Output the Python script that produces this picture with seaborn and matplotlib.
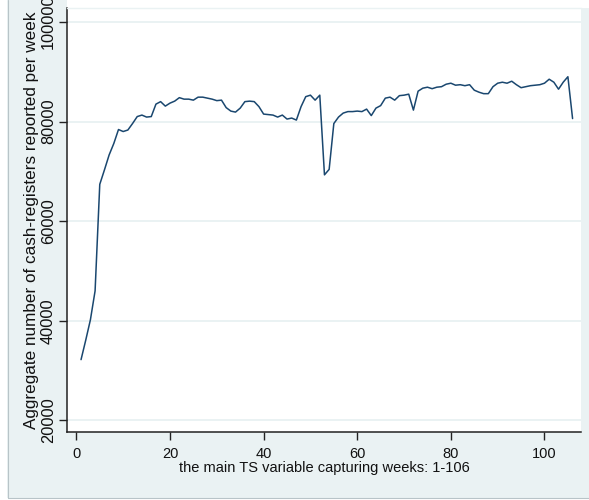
import matplotlib
matplotlib.use("Agg")
import matplotlib.pyplot as plt
import matplotlib.patches as mpatches
import matplotlib.lines as mlines
import seaborn as sns
import pandas as pd

# weekly aggregate of cash registers reporting
weeks = list(range(1, 107))
registers = [
    32200, 36100, 40200, 46000, 67400, 70300, 73300, 75600, 78400, 78000,
    78300, 79600, 81000, 81300, 80900, 81000, 83500, 84000, 83100, 83700,
    84100, 84800, 84500, 84500, 84300, 84900, 84900, 84700, 84500, 84200,
    84300, 82800, 82100, 81900, 82700, 84000, 84100, 84000, 83000, 81500,
    81400, 81300, 80900, 81300, 80500, 80700, 80300, 83000, 85000, 85300,
    84300, 85300, 69300, 70400, 79600, 80900, 81700, 82000, 82000, 82100,
    82000, 82500, 81200, 82700, 83200, 84700, 84900, 84300, 85200, 85300,
    85500, 82300, 86100, 86700, 86900, 86600, 86900, 87000, 87500, 87700,
    87300, 87400, 87200, 87400, 86300, 85900, 85600, 85600, 87000, 87700,
    87900, 87700, 88100, 87400, 86800, 87000, 87200, 87300, 87400, 87700,
    88500, 87900, 86500, 87900, 89000, 80600,
]
x_ticks = [0, 20, 40, 60, 80, 100]
y_ticks = [20000, 40000, 60000, 80000, 100000]

x_title = "the main TS variable capturing weeks: 1-106"
y_title = "Aggregate number of cash-registers reported per week"

df = pd.DataFrame({"week": weeks, "registers": registers})

sns.set_style("white")
plt.rcParams["font.family"] = ["Liberation Sans", "DejaVu Sans"]

BG = "#eaf2f3"
LINE = "#1a476f"
TXT = "#111111"

W, H = 589, 500
fig = plt.figure(figsize=(W / 100, H / 100), dpi=100, facecolor=BG)
ax = fig.add_axes([67 / W, 68 / H, (581 - 67) / W, (492 - 68) / H])
ax.set_facecolor("white")

# white margins + thin frame around the graph region
fig.patches.append(mpatches.Rectangle((0, 0), 7 / W, 1, transform=fig.transFigure,
                                      facecolor="white", edgecolor="none", zorder=-1))
fig.patches.append(mpatches.Rectangle((0, 0), 1, 2 / H, transform=fig.transFigure,
                                      facecolor="white", edgecolor="none", zorder=-1))
fig.patches.append(mpatches.Rectangle((67 / W, 492 / H), 1, 8 / H, transform=fig.transFigure,
                                      facecolor="white", edgecolor="none", zorder=-1))
fig.lines.append(mlines.Line2D([7.5 / W, 7.5 / W], [2 / H, 1], transform=fig.transFigure,
                               color="#b8c4c8", lw=0.8))
fig.lines.append(mlines.Line2D([7.5 / W, 1], [2 / H, 2 / H], transform=fig.transFigure,
                               color="#b8c4c8", lw=0.8))

sns.lineplot(data=df, x="week", y="registers", ax=ax, color=LINE, linewidth=1.1)

ax.set_xlim(-2, 107.8)
ax.set_ylim(17670, 102800)
ax.set_xticks(x_ticks)
ax.set_yticks(y_ticks)
ax.set_yticklabels([str(v) for v in y_ticks], rotation=90, va="center",
                   fontsize=11.8, color=TXT)
ax.set_xticklabels([str(v) for v in x_ticks], fontsize=10.5, color=TXT)

ax.grid(axis="y", color=BG, linewidth=1.4)
ax.grid(axis="x", visible=False)
ax.set_axisbelow(True)

ax.tick_params(axis="both", direction="out", length=6, width=1, color="#222222")
ax.tick_params(axis="y", pad=2, left=True)
ax.tick_params(axis="x", pad=4.5, bottom=True)

for side in ["left", "bottom"]:
    ax.spines[side].set_color("#222222")
    ax.spines[side].set_linewidth(1.1)
ax.spines["right"].set_visible(False)
ax.spines["top"].set_color(BG)
ax.spines["top"].set_linewidth(1.0)

ax.set_xlabel(x_title, fontsize=10.5, color=TXT, labelpad=0.5)
ax.set_ylabel(y_title, fontsize=12.3, color=TXT, labelpad=1)

fig.savefig("out.png", dpi=100, facecolor=BG)
